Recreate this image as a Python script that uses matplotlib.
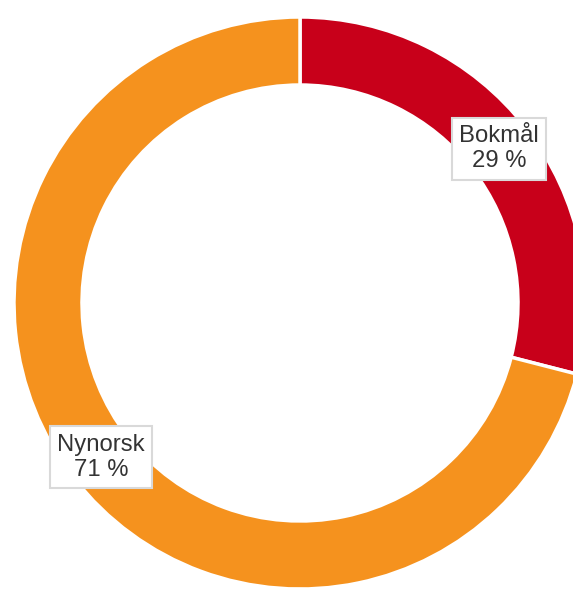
import matplotlib
matplotlib.use("Agg")
import matplotlib.pyplot as plt
import numpy as np

categories = ["Bokmål", "Nynorsk"]
values = [29, 71]
colors = ["#C8001A", "#F5921E"]

W, H = 573, 589
fig = plt.figure(figsize=(W/100, H/100), dpi=100)
ax = fig.add_axes([0, 0, 1, 1])
cx, cy = 300, H - 303
R = 286
width = 68

wedges, _ = ax.pie(values, colors=colors, startangle=90, counterclock=False,
                   radius=R, center=(cx, cy),
                   wedgeprops=dict(width=width, edgecolor="white", linewidth=2.5))

total = sum(values)
cum = 0
for cat, v in zip(categories, values):
    mid = (cum + v / 2) / total
    cum += v
    ang = np.deg2rad(90 - mid * 360)
    r = R - width / 2
    x = cx + r * np.cos(ang)
    y = cy + r * np.sin(ang)
    ax.text(x, y, f"{cat}\n{v} %", ha="center", va="center", fontsize=17.2,
            color="#333333", family="Liberation Sans", linespacing=1.22,
            bbox=dict(boxstyle="square,pad=0.3", facecolor="white", edgecolor="#d9d9d9", linewidth=1.5))

ax.set_xlim(0, W)
ax.set_ylim(0, H)
ax.set_aspect("equal")
ax.axis("off")
fig.savefig("out.png", dpi=100)
